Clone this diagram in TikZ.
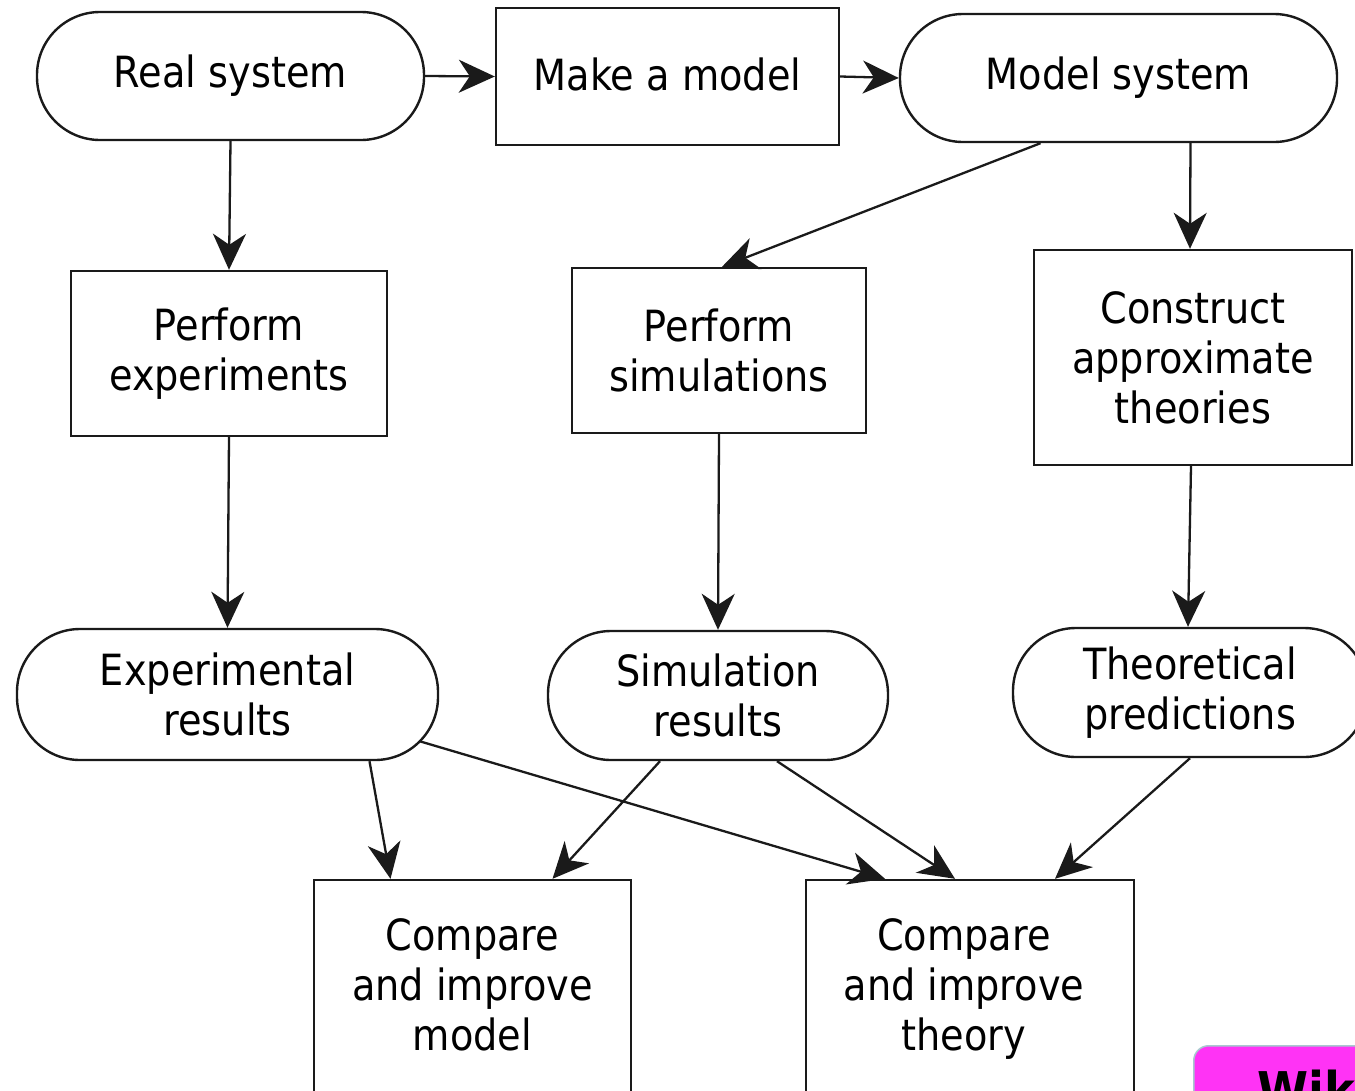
\documentclass[tikz,border=0pt]{standalone}
\usepackage{fontspec}
\setmainfont{DejaVu Sans}[FakeStretch=0.89]
\usetikzlibrary{arrows.meta,calc}
\definecolor{lc}{HTML}{1A1A1A}
\definecolor{wikimag}{HTML}{FF33F5}
\definecolor{wikiedge}{HTML}{A8C8D0}
\newcommand{\lines}[2][0pt]{\raisebox{#1}{\begin{tabular}{@{}c@{}}#2\end{tabular}}}
\begin{document}
\begin{tikzpicture}[x=1pt,y=-1pt,
  base/.style={draw=lc, line width=2.4pt, align=center, inner sep=0pt,
    font=\fontsize{43}{50}\selectfont, text=black},
  stadium/.style={base, rounded corners=63pt},
  boxnode/.style={base},
  conn/.style={draw=lc, line width=2.3pt, -{Stealth[length=36pt,width=33pt,inset=11pt]}}]
\clip (0,0) rectangle (1355,1090);
\useasboundingbox (0,0) rectangle (1355,1090);
\fill[white] (0,0) rectangle (1355,1090);

\node[stadium, minimum width=387pt, minimum height=128pt] (real) at (230.5,76) {Real system};
\node[boxnode, minimum width=343pt, minimum height=137pt] (make) at (667.5,76.5) {\raisebox{5pt}{Make a model}};
\node[stadium, minimum width=437pt, minimum height=128pt] (msys) at (1118.5,78) {Model system};

\node[boxnode, minimum width=316pt, minimum height=165pt] (pexp) at (229,353.5) {Perform\\experiments};
\node[boxnode, minimum width=294pt, minimum height=165pt] (psim) at (719,350.5) {Perform\\simulations};
\node[boxnode, minimum width=318pt, minimum height=215pt] (cons) at (1193,357.5) {Construct\\approximate\\theories};

\node[stadium, minimum width=421pt, minimum height=131pt] (eres) at (227.5,694.5) {Experimental\\results};
\node[stadium, minimum width=340pt, minimum height=129pt] (sres) at (718,695.5) {Simulation\\results};
\node[stadium, minimum width=354pt, minimum height=129pt] (tpre) at (1190,692.5) {Theoretical\\predictions};

\node[boxnode, minimum width=317pt, minimum height=220pt] (cmod) at (472.5,990) {\lines[6pt]{Compare\\and improve\\model}};
\node[boxnode, minimum width=328pt, minimum height=220pt] (cthe) at (970,990) {\lines[6pt]{\hspace*{-12pt}Compare\\\hspace*{-12pt}and improve\\\hspace*{-12pt}theory}};

\draw[conn] (real.east) -- (make.west);
\draw[conn] (make.east) -- (msys.west);
\draw[conn] (real.south) -- (pexp.north);
\draw[conn] ([xshift=-78pt]msys.south) -- ([xshift=3pt]psim.north);
\draw[conn] ([xshift=72pt]msys.south) -- ([xshift=-3pt]cons.north);
\draw[conn] (pexp.south) -- (eres.north);
\draw[conn] (psim.south) -- (sres.north);
\draw[conn] ([xshift=-2pt]cons.south) -- ([xshift=-2pt]tpre.north);

\draw[conn] ([xshift=142pt]eres.south) -- ([xshift=-82pt]cmod.north);
\draw[conn] ($(eres.center)+(193,47)$) -- ([xshift=-85pt]cthe.north);
\draw[conn] ([xshift=-58pt]sres.south) -- ([xshift=80pt]cmod.north);
\draw[conn] ([xshift=59pt]sres.south) -- ([xshift=-15pt]cthe.north);
\draw[conn] (tpre.south) -- ([xshift=85pt]cthe.north);

\node[draw=wikiedge, line width=1.5pt, fill=wikimag, rounded corners=15pt,
  minimum width=250pt, minimum height=120pt, anchor=north west, inner sep=0pt] (wiki) at (1193,1045) {};
\node[anchor=north west, inner sep=0pt, font=\bfseries\fontsize{52}{56}\selectfont, text=black] (wikitext) at (1257,1070) {Wik};
\end{tikzpicture}
\end{document}
